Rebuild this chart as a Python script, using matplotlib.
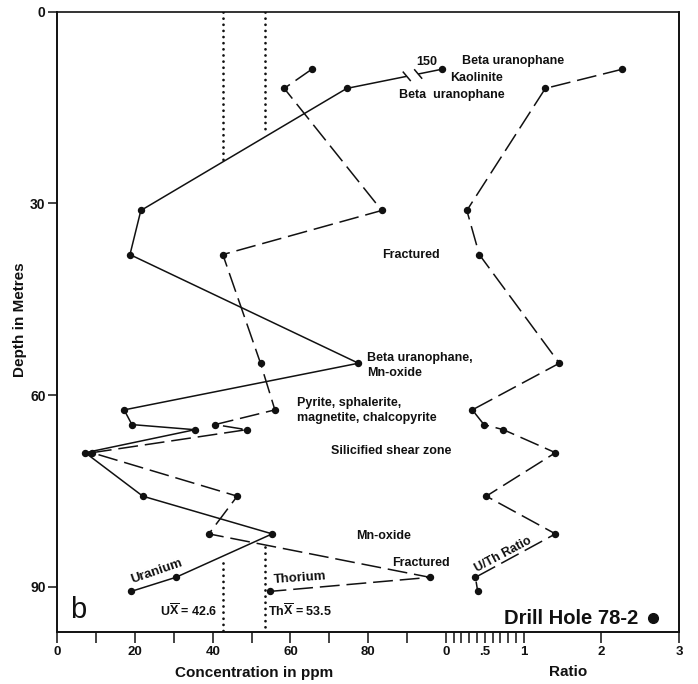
import numpy as np
import matplotlib
matplotlib.use("Agg")
import matplotlib.pyplot as plt

plt.rcParams["font.family"] = ["Liberation Sans", "DejaVu Sans"]
plt.rcParams["mathtext.fontset"] = "custom"
plt.rcParams["mathtext.rm"] = "Liberation Sans:bold"
plt.rcParams["mathtext.default"] = "rm"

# Sample depths (m) down drill hole 78-2
depth_m = [9.0, 12.0, 31.1, 38.0, 55.0, 62.3, 64.6, 65.4, 69.0, 75.8, 81.7, 88.5, 90.7]
# Uranium and thorium concentrations (ppm)
uranium_ppm = [150.0, 74.5, 21.5, 18.7, 77.5, 17.2, 19.2, 35.4, 7.2, 22.0, 55.3, 30.5, 19.0]
thorium_ppm = [65.5, 58.4, 83.5, 42.6, 52.3, 56.0, 40.6, 48.7, 8.9, 46.3, 39.0, 95.9, 54.7]
# U/Th ratio
ratio_u_th = [2.27, 1.28, 0.27, 0.43, 1.46, 0.34, 0.49, 0.74, 1.41, 0.52, 1.41, 0.38, 0.41]

# Mean concentrations
u_mean = 42.6
th_mean = 53.5

conc_ticks = [0, 20, 40, 60, 80]
conc_minor = [10, 30, 50, 70, 90]
ratio_ticks = [0, 0.5, 1, 2, 3]
ratio_tick_labels = ["0", ".5", "1", "2", "3"]
depth_ticks = [0, 30, 60, 90]

CONC_CAP = 99.0  # off-scale values are drawn at the edge of the ppm scale

fig = plt.figure(figsize=(6.98, 6.84), dpi=100)
ax = fig.add_axes([0.0821, 0.0765, 0.8907, 0.9064])
ax.set_xlim(0, 160)
ax.set_ylim(97, 0)

ink = "#111111"
lw = 1.1
ms = 4.3
fw = "bold"

# Uranium (solid)
u_plot = np.minimum(np.array(uranium_ppm), CONC_CAP)
ax.plot(u_plot, depth_m, color=ink, lw=lw, marker="o", ms=ms, zorder=3)

# break in the off-scale uranium segment
x0, y0 = u_plot[1], depth_m[1]
x1, y1 = u_plot[0], depth_m[0]
t_a, t_b = 0.63, 0.75
gx = [x0 + t_a * (x1 - x0), x0 + t_b * (x1 - x0)]
gy = [y0 + t_a * (y1 - y0), y0 + t_b * (y1 - y0)]
ax.plot(gx, gy, color="white", lw=3, zorder=4, solid_capstyle="butt")
for bx, by in zip(gx, gy):
    ax.plot([bx - 0.9, bx + 0.9], [by - 0.65, by + 0.65], color=ink, lw=lw, zorder=5)

# Thorium (dashed)
ax.plot(thorium_ppm, depth_m, color=ink, lw=lw, marker="o", ms=ms,
        dashes=(13, 4.5), zorder=3)

# Mean lines (dotted), interrupted through the plotted profiles
dot_kw = dict(color=ink, lw=2.0, dashes=(0.01, 2.2), dash_capstyle="round", zorder=2)
ax.plot([u_mean, u_mean], [0, 23.5], **dot_kw)
ax.plot([u_mean, u_mean], [86.2, 97], **dot_kw)
ax.plot([th_mean, th_mean], [0, 18.9], **dot_kw)
ax.plot([th_mean, th_mean], [83.7, 97], **dot_kw)

# U/Th ratio on its own scale
ax2 = ax.twiny()
ax2.set_xlim(-5, 3)
ax2.set_ylim(97, 0)
ax2.plot(ratio_u_th, depth_m, color=ink, lw=lw, marker="o", ms=ms,
         dashes=(13, 4.5), zorder=3)

# Axes styling
for a in (ax, ax2):
    for s in a.spines.values():
        s.set_linewidth(1.2)
        s.set_color(ink)
ax2.spines["top"].set_visible(False)

ax.set_yticks(depth_ticks)
ax.set_yticklabels([str(d) for d in depth_ticks])
ax.tick_params(axis="y", length=6.5, width=1.1, pad=2, labelsize=10, colors=ink)

ax.set_xticks(conc_ticks)
ax.set_xticks(conc_minor, minor=True)
ax.set_xticklabels([str(c) for c in conc_ticks])
ax.tick_params(axis="x", which="both", length=8, width=1.1, pad=2.5,
               labelsize=9.5, colors=ink, top=False)

ax2.xaxis.set_ticks_position("bottom")
ax2.xaxis.set_label_position("bottom")
ax2.set_xticks(ratio_ticks)
ax2.set_xticklabels(ratio_tick_labels)
ax2.set_xticks([r / 10 for r in range(1, 10) if r != 5], minor=True)
ax2.tick_params(axis="x", which="both", length=8, width=1.1, pad=2.5,
                labelsize=9.5, colors=ink)

for lab in ax.get_xticklabels() + ax.get_yticklabels() + ax2.get_xticklabels():
    lab.set_fontweight(fw)

ax.set_ylabel("Depth in Metres", fontsize=11, fontweight=fw, color=ink, va="center")
ax.yaxis.set_label_coords(-0.06, 0.504)
fig.text(0.3643, 0.0156, "Concentration in ppm", fontsize=11, fontweight=fw,
         ha="center", va="center", color=ink)
fig.text(0.8142, 0.0170, "Ratio", fontsize=11, fontweight=fw,
         ha="center", va="center", color=ink)

# Annotations
tk = dict(fontsize=9, fontweight=fw, color=ink)
ax.text(95.1, 7.8, "150", ha="center", va="center", **tk)
ax.text(117.3, 7.7, "Beta uranophane", ha="center", va="center", **tk)
ax.text(107.9, 10.3, "Kaolinite", ha="center", va="center", **tk)
ax.text(101.5, 13.0, "Beta  uranophane", ha="center", va="center", **tk)
ax.text(91.0, 38.0, "Fractured", ha="center", va="center", **tk)
ax.text(79.8, 55.4, "Beta uranophane,\nMn-oxide", ha="left", va="center",
        linespacing=1.35, **tk)
ax.text(61.6, 62.4, "Pyrite, sphalerite,\nmagnetite, chalcopyrite", ha="left",
        va="center", linespacing=1.4, **tk)
ax.text(70.4, 68.7, "Silicified shear zone", ha="left", va="center", **tk)
ax.text(83.9, 82.1, "Mn-oxide", ha="center", va="center", **tk)
ax.text(93.6, 86.2, "Fractured", ha="center", va="center", **tk)
ax.text(114.8, 84.9, "U/Th Ratio", ha="center", va="center", rotation=28,
        rotation_mode="anchor", **tk)
ax.text(25.6, 87.6, "Uranium", ha="center", va="center", rotation=19,
        rotation_mode="anchor", fontsize=9.5, fontweight=fw, color=ink)
ax.text(62.5, 88.7, "Thorium", ha="center", va="center", rotation=4,
        rotation_mode="anchor", fontsize=9.5, fontweight=fw, color=ink)
ax.text(u_mean - 1.4, 93.8, r"U$\overline{\mathrm{X}}$ = %.1f" % u_mean,
        ha="right", va="center", **tk)
ax.text(th_mean + 0.8, 93.8, r"Th$\overline{\mathrm{X}}$ = %.1f" % th_mean,
        ha="left", va="center", **tk)
ax.text(5.4, 93.6, "b", fontsize=21, ha="center", va="center", color=ink)
ax.text(149.5, 94.9, "Drill Hole 78-2", fontsize=14.5, fontweight=fw,
        ha="right", va="center", color=ink)
ax.plot([153.2], [94.9], marker="o", ms=7, color=ink, clip_on=False)

fig.savefig("out.png", dpi=100)
